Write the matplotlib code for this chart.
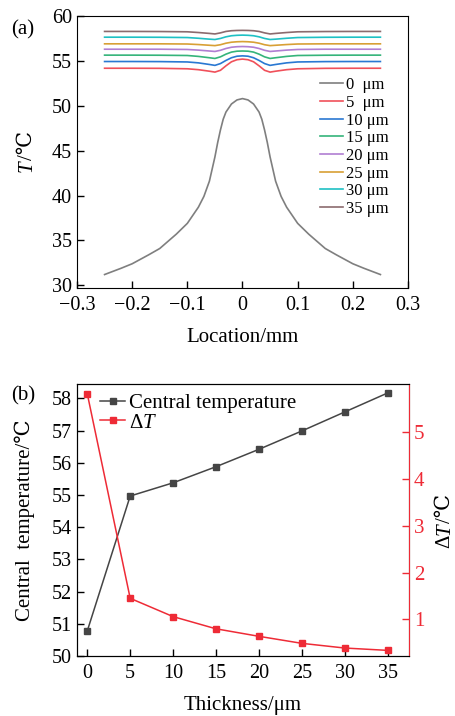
import matplotlib
matplotlib.use("Agg")
import matplotlib.pyplot as plt

plt.rcParams['font.family'] = ['Liberation Serif', 'DejaVu Serif', 'DejaVu Sans']
plt.rcParams['mathtext.fontset'] = 'custom'
plt.rcParams['mathtext.rm'] = 'DejaVu Serif'
plt.rcParams['mathtext.it'] = 'Liberation Serif:italic'

# ---------------- data (a) ----------------
x0 = [-0.25, -0.22, -0.2, -0.17, -0.15, -0.12, -0.1, -0.08, -0.07, -0.06, -0.05, -0.045, -0.04,
      -0.035, -0.03, -0.02, -0.01, 0.0, 0.01, 0.02, 0.03, 0.035, 0.04, 0.045, 0.05, 0.06, 0.07,
      0.08, 0.1, 0.12, 0.15, 0.17, 0.2, 0.22, 0.25]
t0 = [31.2, 31.9, 32.4, 33.4, 34.1, 35.7, 36.9, 38.7, 39.9, 41.6, 44.3, 45.9, 47.3,
      48.5, 49.3, 50.2, 50.65, 50.8, 50.65, 50.2, 49.3, 48.5, 47.3, 45.9, 44.3, 41.6, 39.9,
      38.7, 36.9, 35.7, 34.1, 33.4, 32.4, 31.9, 31.2]

x_flat = [-0.25, -0.2, -0.15, -0.1, -0.08, -0.06, -0.05, -0.04, -0.03, -0.02, -0.01, 0.0,
          0.01, 0.02, 0.03, 0.04, 0.05, 0.06, 0.08, 0.1, 0.15, 0.2, 0.25]
t5 = [54.18, 54.18, 54.17, 54.12, 54.02, 53.85, 53.75, 53.95, 54.45, 54.9, 55.13, 55.2,
      55.13, 54.9, 54.45, 53.95, 53.75, 53.85, 54.02, 54.12, 54.17, 54.18, 54.18]
t10 = [54.93, 54.93, 54.92, 54.88, 54.78, 54.6, 54.5, 54.7, 55.05, 55.35, 55.52, 55.56,
       55.52, 55.35, 55.05, 54.7, 54.5, 54.6, 54.78, 54.88, 54.92, 54.93, 54.93]
t15 = [55.64, 55.64, 55.63, 55.6, 55.5, 55.35, 55.27, 55.45, 55.75, 55.98, 56.08, 56.1,
       56.08, 55.98, 55.75, 55.45, 55.27, 55.35, 55.5, 55.6, 55.63, 55.64, 55.64]
t20 = [56.3, 56.3, 56.3, 56.27, 56.2, 56.1, 56.05, 56.18, 56.38, 56.52, 56.58, 56.6,
       56.58, 56.52, 56.38, 56.18, 56.05, 56.1, 56.2, 56.27, 56.3, 56.3, 56.3]
t25 = [56.9, 56.9, 56.9, 56.88, 56.82, 56.74, 56.7, 56.8, 56.97, 57.08, 57.13, 57.15,
       57.13, 57.08, 56.97, 56.8, 56.7, 56.74, 56.82, 56.88, 56.9, 56.9, 56.9]
t30 = [57.64, 57.64, 57.63, 57.6, 57.52, 57.42, 57.38, 57.5, 57.68, 57.8, 57.85, 57.87,
       57.85, 57.8, 57.68, 57.5, 57.38, 57.42, 57.52, 57.6, 57.63, 57.64, 57.64]
t35 = [58.28, 58.28, 58.27, 58.24, 58.16, 58.06, 58.0, 58.12, 58.28, 58.36, 58.39, 58.4,
       58.39, 58.36, 58.28, 58.12, 58.0, 58.06, 58.16, 58.24, 58.27, 58.28, 58.28]

labels_a = ["0  μm", "5  μm", "10 μm", "15 μm", "20 μm", "25 μm", "30 μm", "35 μm"]
colors_a = ["#7f7f7f", "#f0505a", "#2a78d2", "#35b47a", "#b07ed2", "#d8a035", "#1fc0c4", "#8b6b6e"]

xticks_a = [-0.3, -0.2, -0.1, 0.0, 0.1, 0.2, 0.3]
xticklabels_a = ["−0.3", "−0.2", "−0.1", "0", "0.1", "0.2", "0.3"]
yticks_a = [30, 35, 40, 45, 50, 55, 60]

# ---------------- data (b) ----------------
thickness = [0, 5, 10, 15, 20, 25, 30, 35]
central_temp = [50.78, 54.97, 55.38, 55.88, 56.42, 56.99, 57.58, 58.17]
delta_t = [5.81, 1.45, 1.06, 0.80, 0.64, 0.49, 0.39, 0.34]

RED = "#ee2b36"
W, H = 456, 716
fig = plt.figure(figsize=(W / 100, H / 100), dpi=100)


def stacked_vlabel(pieces, x_px, y_bottom_px, size=15):
    """Rotated (bottom-to-top) label made of pieces with their own style."""
    fig.canvas.draw()
    r = fig.canvas.get_renderer()
    y = y_bottom_px
    for txt, style in pieces:
        t = fig.text(x_px / W, 1 - y / H, txt, rotation=90, fontsize=size, style=style,
                     ha='center', va='bottom')
        ext = t.get_window_extent(renderer=r)
        y -= ext.height


# ---------------- (a) ----------------
ax1 = fig.add_axes([77 / W, 1 - 288 / H, 331 / W, 272 / H])
series = [(x0, t0)] + [(x_flat, t) for t in (t5, t10, t15, t20, t25, t30, t35)]
for (xs, ys), lab, c in zip(series, labels_a, colors_a):
    ax1.plot(xs, ys, color=c, lw=1.2, label=lab)
ax1.set_xlim(-0.3, 0.3)
ax1.set_ylim(29.7, 60)
ax1.set_xticks(xticks_a)
ax1.set_xticklabels(xticklabels_a)
ax1.set_yticks(yticks_a)
ax1.tick_params(direction='in', labelsize=14.5, length=5, width=1, top=False, right=False)
ax1.tick_params(axis='x', pad=6)
ax1.set_xlabel("Location/mm", fontsize=15, labelpad=9)
ax1.legend(loc='upper left', bbox_to_anchor=(0.735, 0.775), frameon=False, fontsize=12,
           handlelength=1.35, handletextpad=0.2, labelspacing=0.1, borderaxespad=0,
           borderpad=0)
fig.text(11 / W, 1 - 30 / H, "(a)", fontsize=15, va='center', ha='left')

# ---------------- (b) ----------------
ax2 = fig.add_axes([77 / W, 1 - 656 / H, 332 / W, 272 / H])
ax2.plot(thickness, central_temp, color="#454545", lw=1.1, marker='s', ms=4.5,
         label="Central temperature")
ax2.set_xlim(-1.2, 37.5)
ax2.set_ylim(50, 58.45)
ax2.set_xticks(thickness)
ax2.set_yticks([50, 51, 52, 53, 54, 55, 56, 57, 58])
ax2.tick_params(direction='in', labelsize=14.5, length=5, width=1, top=False, right=False)
ax2.tick_params(axis='x', pad=6)
ax2.set_xlabel("Thickness/μm", fontsize=15, labelpad=9)
ax2.set_ylabel("Central  temperature/℃", fontsize=15, labelpad=12)

ax3 = ax2.twinx()
ax3.plot(thickness, delta_t, color=RED, lw=1.1, marker='s', ms=4.5, label=r"Δ$T$")
ax3.set_ylim(0.22, 6.02)
ax3.set_yticks([1, 2, 3, 4, 5])
ax3.tick_params(direction='in', labelsize=15, length=5, width=1, colors=RED)
ax3.spines['right'].set_color(RED)

h1, l1 = ax2.get_legend_handles_labels()
h2, l2 = ax3.get_legend_handles_labels()
ax2.legend(h1 + h2, l1 + l2, loc='upper left', bbox_to_anchor=(0.07, 0.965), frameon=False,
           fontsize=15, handlelength=1.2, handletextpad=0.2, labelspacing=0.0,
           borderaxespad=0, borderpad=0, numpoints=1)
fig.text(11 / W, 1 - 396 / H, "(b)", fontsize=15, va='center', ha='left')

# axis labels with italic T
stacked_vlabel([("T", 'italic'), ("/℃", 'normal')], 27, 172)
stacked_vlabel([("Δ", 'normal'), ("T", 'italic'), ("/℃", 'normal')], 445, 548)

fig.savefig("out.png", dpi=100)
